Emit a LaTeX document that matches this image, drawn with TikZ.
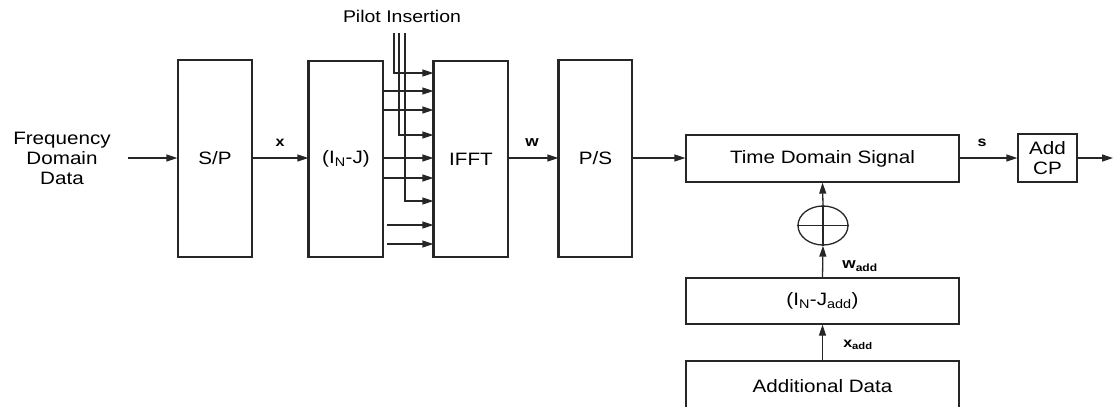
\documentclass[tikz,border=0pt]{standalone}
\usepackage{fontspec}
\setmainfont{Liberation Sans}[FakeStretch=1.15]
\usetikzlibrary{arrows.meta,shapes.geometric}
\tikzset{
  blk/.style={draw=black!85,line width=1.3bp,rectangle,inner sep=0pt,font=\fontsize{18}{20}\selectfont,align=center},
  arr/.style={draw=black!85,line width=1.3bp,-{Triangle[length=11bp,width=7bp]}},
  ln/.style={draw=black!85,line width=1.3bp},
  lbl/.style={font=\bfseries\fontsize{14}{16}\selectfont,inner sep=0pt},
  txt/.style={font=\fontsize{18}{20}\selectfont,align=center,inner sep=0pt},
  thickedge/.style={draw=black!85,line width=2.4bp}
}
\begin{document}
\begin{tikzpicture}[x=1bp,y=-1bp]
\useasboundingbox (0,0) rectangle (1114,406);
% nodes
\node[txt] (fdd) at (62,158) {Frequency\\Domain\\Data};
\node[blk,minimum width=74bp,minimum height=197bp] (sp) at (215,158.5) {S/P};
\node[blk,minimum width=74bp,minimum height=196bp] (inj) at (346,159) {(I\textsubscript{N}-J)};
\node[blk,minimum width=74bp,minimum height=196bp] (ifft) at (471,159) {IFFT};
\node[blk,minimum width=73bp,minimum height=197bp] (ps) at (595.5,158.5) {P/S};
\node[blk,minimum width=273bp,minimum height=47bp] (tds) at (822.5,158.5) {Time Domain Signal};
\node[blk,minimum width=59bp,minimum height=48bp] (cp) at (1047.5,158) {Add\\CP};
\node[draw=black!85,line width=1.3bp,ellipse,minimum width=50bp,minimum height=39bp,inner sep=0pt] (sum) at (823,225.5) {};
\node[blk,minimum width=273bp,minimum height=46bp] (injadd) at (822.5,301) {(I\textsubscript{N}-J\textsubscript{add})};
\node[blk,minimum width=273bp,minimum height=50bp] (add) at (822.5,386) {Additional Data};
\node[txt,font=\fontsize{17}{20}\selectfont] (pilot) at (402,16) {Pilot Insertion};
% thick left edges
\draw[thickedge] (inj.north west) -- (inj.south west);
\draw[thickedge] (ifft.north west) -- (ifft.south west);
\draw[thickedge] (ps.north west) -- (ps.south west);
% cross in sum
\draw[ln] (sum.north) -- (sum.south);
\draw[ln] (sum.west) -- (sum.east);
% coordinates
\coordinate (fin) at (128,158);
\coordinate (out) at (1113,158);
\coordinate (p1) at (394,33);
\coordinate (p2) at (399,33);
\coordinate (p3) at (405,33);
% main flow
\draw[arr] (fin) -- (sp.west |- fin);
\draw[arr] (sp.east |- fin) -- (inj.west |- fin);
\draw[arr] (ifft.east |- fin) -- (ps.west |- fin);
\draw[arr] (ps.east |- fin) -- (tds.west |- fin);
\draw[arr] (tds.east |- fin) -- (cp.west |- fin);
\draw[arr] (cp.east |- fin) -- (out);
% inj to ifft
\foreach \yy in {91,110,158,178} {
  \draw[arr] (inj.east |- 0,\yy) -- (ifft.west |- 0,\yy);
}
\foreach \yy in {225,244} {
  \draw[arr] ([xshift=3bp]inj.east |- 0,\yy) -- (ifft.west |- 0,\yy);
}
% pilot lines
\draw[arr] (p1) |- (ifft.west |- 0,73);
\draw[arr] (p2) |- (ifft.west |- 0,135);
\draw[arr] (p3) |- (ifft.west |- 0,201);
% bottom branch
\draw[arr] (add.north) -- (injadd.south);
\draw[arr] (injadd.north) -- (sum.south);
\draw[arr] (sum.north) -- (tds.south);
% labels
\node[lbl] (lx) at (280,143) {x};
\node[lbl,font=\bfseries\fontsize{15}{16}\selectfont] (lw) at (532,143) {w};
\node[lbl] (ls) at (982,143) {s};
\node[lbl,font=\bfseries\fontsize{15}{16}\selectfont] (lwadd) at (860,266) {w\textsubscript{add}};
\node[lbl] (lxadd) at (858,345) {x\textsubscript{add}};
\end{tikzpicture}
\end{document}
